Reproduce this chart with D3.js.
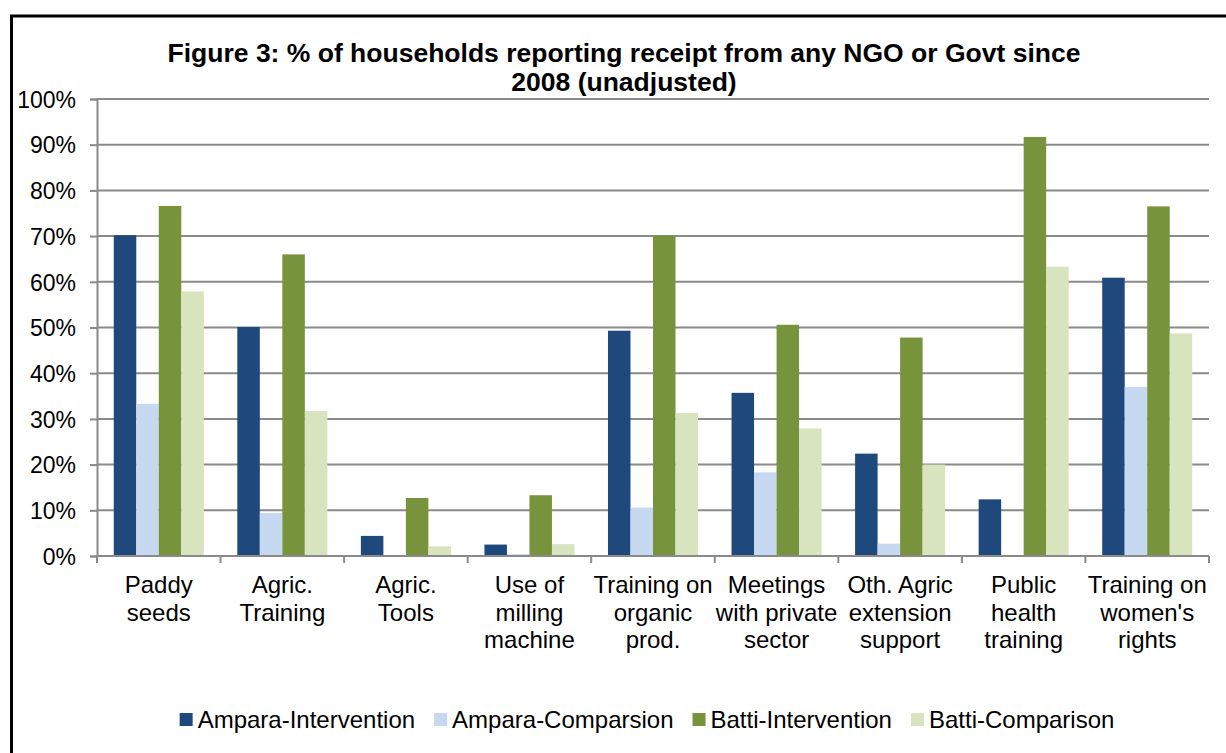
<!DOCTYPE html>
<html>
<head>
<meta charset="utf-8">
<script src="https://cdnjs.cloudflare.com/ajax/libs/d3/7.8.5/d3.min.js"></script>
<style>
  body { margin: 0; background: #fff; }
  svg text { font-family: "Liberation Sans", Arial, sans-serif; fill: #000; }
</style>
</head>
<body>
<div id="chart"></div>
<script>
// categories (x axis), each label split in lines
var categories = ["Paddy seeds", "Agric. Training", "Agric. Tools", "Use of milling machine",
  "Training on organic prod.", "Meetings with private sector", "Oth. Agric extension support",
  "Public health training", "Training on women's rights"];
var categoryLines = [["Paddy", "seeds"], ["Agric.", "Training"], ["Agric.", "Tools"],
  ["Use of", "milling", "machine"], ["Training on", "organic", "prod."],
  ["Meetings", "with private", "sector"], ["Oth. Agric", "extension", "support"],
  ["Public", "health", "training"], ["Training on", "women's", "rights"]];

var seriesNames = ["Ampara-Intervention", "Ampara-Comparsion", "Batti-Intervention", "Batti-Comparison"];
var seriesColors = ["#1F497D", "#C6D9F1", "#77933C", "#D7E4BD"];

// values in %
var amparaIntervention = [70.2, 50.1, 4.4, 2.5, 49.3, 35.7, 22.4, 12.4, 60.9];
var amparaComparison   = [33.3, 9.4, 0, 0.4, 10.6, 18.3, 2.7, 0, 37.0];
var battiIntervention  = [76.6, 66.0, 12.7, 13.3, 70.1, 50.6, 47.8, 91.7, 76.5];
var battiComparison    = [57.9, 31.7, 2.1, 2.6, 31.3, 27.9, 20.0, 63.3, 48.7];

var yTicks = [0, 10, 20, 30, 40, 50, 60, 70, 80, 90, 100];

var allSeries = [amparaIntervention, amparaComparison, battiIntervention, battiComparison];

var W = 1226, H = 753;
var plot = {left: 97, right: 1209, top: 99, bottom: 556};

var svg = d3.select("#chart").append("svg")
    .attr("width", W)
    .attr("height", H);

// frame
svg.append("path")
    .attr("d", "M11.5," + (H + 10) + " V16 H" + (W + 10))
    .attr("fill", "none")
    .attr("stroke", "#000")
    .attr("stroke-width", 3);

var x = d3.scaleBand()
    .domain(categories)
    .range([plot.left, plot.right]);

var bw = x.bandwidth();
var side = bw * 16.75 / 123.5;
var x1 = d3.scaleBand()
    .domain(d3.range(seriesNames.length))
    .range([side, bw - side]);

var y = d3.scaleLinear()
    .domain([0, 100])
    .range([plot.bottom, plot.top]);

var gridColor = "#8a8a8a";

// gridlines
svg.append("g")
  .selectAll("line")
  .data(yTicks)
  .enter()
  .append("line")
    .attr("x1", plot.left)
    .attr("x2", plot.right)
    .attr("y1", function(d) { return y(d); })
    .attr("y2", function(d) { return y(d); })
    .attr("stroke", gridColor)
    .attr("stroke-width", 2);

// bars
var groups = svg.append("g")
  .selectAll("g")
  .data(categories)
  .enter()
  .append("g")
    .attr("transform", function(d) { return "translate(" + x(d) + ",0)"; });

groups.selectAll("rect")
  .data(function(d, i) { return allSeries.map(function(s, j) { return {s: j, v: s[i]}; }); })
  .enter()
  .append("rect")
    .attr("x", function(d) { return x1(d.s); })
    .attr("width", x1.bandwidth())
    .attr("y", function(d) { return y(d.v); })
    .attr("height", function(d) { return y(0) - y(d.v); })
    .attr("fill", function(d) { return seriesColors[d.s]; });

// y axis
var yAxis = svg.append("g")
    .attr("transform", "translate(" + plot.left + ",0)")
    .call(d3.axisLeft(y).tickValues(yTicks).tickSize(7).tickPadding(14)
      .tickFormat(function(d) { return d + "%"; }));
yAxis.select(".domain").attr("stroke", gridColor).attr("stroke-width", 2);
yAxis.selectAll(".tick line").attr("stroke", gridColor).attr("stroke-width", 2);
yAxis.selectAll(".tick text")
    .style("font-size", "23px")
    .attr("dy", "0.36em");

// x axis line and ticks at category boundaries
var boundaries = categories.map(function(c) { return x(c); }).concat([plot.right]);
svg.append("line")
    .attr("x1", plot.left).attr("x2", plot.right)
    .attr("y1", y(0)).attr("y2", y(0))
    .attr("stroke", gridColor).attr("stroke-width", 2);
svg.append("g")
  .selectAll("line")
  .data(boundaries)
  .enter()
  .append("line")
    .attr("x1", function(d) { return d; })
    .attr("x2", function(d) { return d; })
    .attr("y1", y(0))
    .attr("y2", y(0) + 7)
    .attr("stroke", gridColor)
    .attr("stroke-width", 2);

// category labels
svg.append("g")
  .selectAll("text")
  .data(categories)
  .enter()
  .append("text")
    .attr("text-anchor", "middle")
    .style("font-size", "24px")
    .each(function(d, i) {
      var t = d3.select(this);
      categoryLines[i].forEach(function(line, k) {
        t.append("tspan")
          .attr("x", x(d) + bw / 2)
          .attr("y", 593 + k * 27.5)
          .text(line);
      });
    });

// title
var title = svg.append("text")
    .attr("text-anchor", "middle")
    .style("font-size", "26.5px")
    .style("font-weight", "bold");
title.append("tspan").attr("x", 624).attr("y", 62)
    .text("Figure 3: % of households reporting receipt from any NGO or Govt since");
title.append("tspan").attr("x", 624).attr("y", 91)
    .text("2008 (unadjusted)");

// legend
var legend = svg.append("g");
var items = legend.selectAll("g")
  .data(seriesNames)
  .enter()
  .append("g");
items.append("rect")
    .attr("width", 13)
    .attr("height", 13)
    .attr("y", 713)
    .attr("fill", function(d, i) { return seriesColors[i]; });
items.append("text")
    .attr("x", 18)
    .attr("y", 728)
    .style("font-size", "24px")
    .text(function(d) { return d; });

var pos = 0;
var offsets = [];
items.each(function() {
  offsets.push(pos);
  pos += 18 + d3.select(this).select("text").node().getComputedTextLength() + 19;
});
var total = pos - 19;
var start = 647 - total / 2;
items.attr("transform", function(d, i) { return "translate(" + (start + offsets[i]) + ",0)"; });
</script>
</body>
</html>
